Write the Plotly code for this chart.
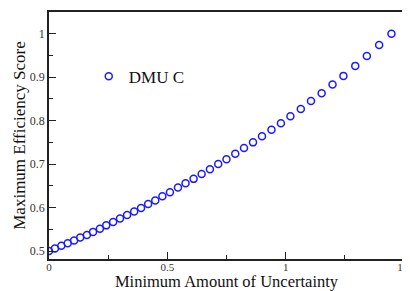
import plotly.graph_objects as go

# Data
uncertainty = [0.0, 0.025, 0.052, 0.079, 0.106, 0.132, 0.160, 0.186, 0.215, 0.242,
               0.271, 0.300, 0.330, 0.360, 0.389, 0.419, 0.449, 0.479, 0.511, 0.545,
               0.577, 0.611, 0.645, 0.680, 0.715, 0.750, 0.787, 0.824, 0.862, 0.900,
               0.940, 0.980, 1.020, 1.064, 1.107, 1.152, 1.198, 1.244, 1.294, 1.343,
               1.395, 1.447]
efficiency = [0.500, 0.506, 0.512, 0.518, 0.524, 0.531, 0.537, 0.544, 0.551, 0.559,
              0.567, 0.575, 0.583, 0.591, 0.599, 0.608, 0.616, 0.626, 0.635, 0.646,
              0.656, 0.666, 0.677, 0.688, 0.700, 0.711, 0.724, 0.737, 0.750, 0.764,
              0.779, 0.794, 0.810, 0.827, 0.845, 0.863, 0.883, 0.903, 0.926, 0.949,
              0.974, 1.000]
series_name = "DMU C"
x_title = "Minimum Amount of Uncertainty"
y_title = "Maximum Efficiency Score"

fig = go.Figure()
fig.add_trace(go.Scatter(
    x=uncertainty, y=efficiency, mode="markers", name=series_name,
    marker=dict(symbol="circle-open", size=7, color="#1a1aff",
                line=dict(width=1.5, color="#1a1aff")),
))

serif = "Liberation Serif"
axis_common = dict(
    showgrid=False, zeroline=False, showline=True, linecolor="#222",
    linewidth=1.5, mirror=True, ticks="inside", ticklen=7, tickwidth=1,
    tickcolor="#222", automargin=False,
)
fig.update_xaxes(range=[0, 1.5], dtick=0.5, tick0=0,
                 tickfont=dict(family=serif, size=11, color="#333"),
                 ticklabelstandoff=-3, ticklabeloverflow="allow",
                 minor=dict(dtick=0.25, ticks="inside", ticklen=4, tickcolor="#222"),
                 title=dict(text=x_title, font=dict(family=serif, size=16.5, color="#111"),
                            standoff=6),
                 **axis_common)
fig.update_yaxes(range=[0.4816, 1.05], dtick=0.1, tick0=0.5,
                 tickfont=dict(family=serif, size=12, color="#333"),
                 minor=dict(dtick=0.05, ticks="inside", ticklen=4, tickcolor="#222"),
                 title=dict(text=y_title, font=dict(family=serif, size=17, color="#111"),
                            standoff=0),
                 **axis_common)
# The page body adds an 8px offset, so the figure is 8px smaller than the window
fig.update_layout(
    width=402, height=283,
    margin=dict(l=41, r=6, t=4, b=32, autoexpand=False),
    paper_bgcolor="white", plot_bgcolor="white",
    font=dict(family=serif),
    showlegend=True,
    legend=dict(x=0.112, y=0.738, xanchor="left", yanchor="middle",
                bgcolor="rgba(0,0,0,0)",
                font=dict(family=serif, size=17, color="#111")),
)
fig.write_html("out.html")
